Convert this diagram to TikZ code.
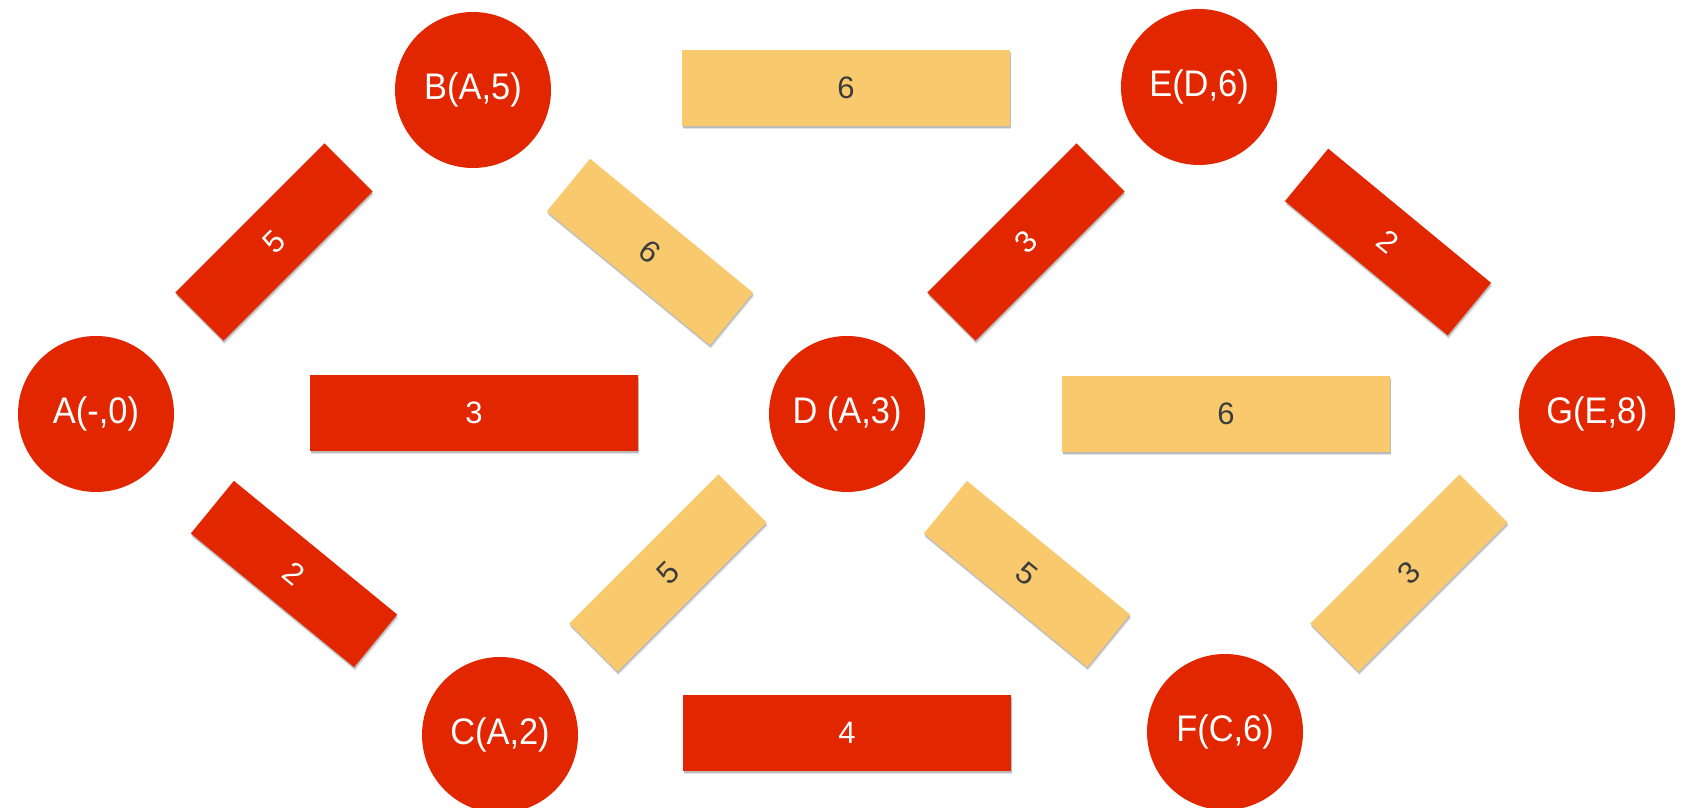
\documentclass[tikz,border=0pt]{standalone}
\usepackage{fontspec}
\setmainfont{Liberation Sans}
\newfontfamily\narrowfont[FakeStretch=0.93]{Liberation Sans}
\usetikzlibrary{shadows}
\definecolor{nodered}{HTML}{E12600}
\definecolor{edgeyel}{HTML}{F9C96E}
\definecolor{txtgray}{HTML}{3C3C3C}
\begin{document}
\begin{tikzpicture}[x=1pt,y=1pt,
  vert/.style={circle, fill=nodered, minimum size=156pt, inner sep=0pt, text=white,
    font=\narrowfont\fontsize{37}{40}\selectfont},
  boxshadow/.style={
    drop shadow={shadow xshift=1pt, shadow yshift=-3.5pt, opacity=0.10, fill=black},
    drop shadow={shadow xshift=0.5pt, shadow yshift=-2pt, opacity=0.18, fill=black}},
  longbox/.style={rectangle, minimum width=328pt, minimum height=76pt, inner sep=0pt,
    font=\fontsize{31}{34}\selectfont, boxshadow},
  diagbox/.style={rectangle, minimum width=211pt, minimum height=68pt, inner sep=0pt,
    font=\fontsize{31}{34}\selectfont, boxshadow},
  redfill/.style={fill=nodered, text=white},
  yelfill/.style={fill=edgeyel, text=txtgray}
]
\useasboundingbox (0,0) rectangle (1690,808);
\fill[white] (0,0) rectangle (1690,808);

% edge boxes
\node[diagbox, redfill, rotate=45]   (ab) at (274,566) {5};
\node[diagbox, yelfill, rotate=-39.4] (bd) at (650,556) {6};
\node[longbox, redfill]              (ad) at (474,395) {3};
\node[diagbox, redfill, rotate=-39.3] (ac) at (294,234) {2};
\node[diagbox, yelfill, rotate=45]   (cd) at (668,235) {5};
\node[longbox, yelfill]              (be) at (846,720) {6};
\node[longbox, redfill]              (cf) at (847,75) {4};
\node[diagbox, redfill, rotate=45]   (de) at (1026,566) {3};
\node[diagbox, redfill, rotate=-39.5] (eg) at (1388,566) {2};
\node[longbox, yelfill]              (dg) at (1226,394) {6};
\node[diagbox, yelfill, rotate=-39.3] (df) at (1027,234) {5};
\node[diagbox, yelfill, rotate=45]   (fg) at (1409,235) {3};

% vertices
\node[vert] (A) at (96,394)   {A(-,0)};
\node[vert] (B) at (473,718)  {B(A,5)};
\node[vert] (C) at (500,73)   {C(A,2)};
\node[vert] (D) at (847,394)  {D (A,3)};
\node[vert] (E) at (1199,721) {E(D,6)};
\node[vert] (F) at (1225,76)  {F(C,6)};
\node[vert] (G) at (1597,394) {G(E,8)};
\end{tikzpicture}
\end{document}
